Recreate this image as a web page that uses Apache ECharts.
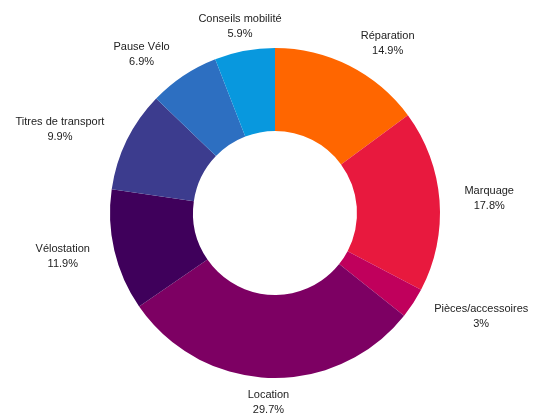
<!DOCTYPE html>
<html>
<head>
<meta charset="utf-8">
<script src="https://cdn.jsdelivr.net/npm/echarts@6/dist/echarts.min.js"></script>
<style>
  html, body { margin: 0; padding: 0; background: #fff; }
  #chart { width: 541px; height: 413px; }
</style>
</head>
<body>
<div id="chart"></div>
<script>
// données
const categories = ['Réparation', 'Marquage', 'Pièces/accessoires', 'Location', 'Vélostation', 'Titres de transport', 'Pause Vélo', 'Conseils mobilité']
const values = [14.9, 17.8, 3, 29.7, 11.9, 9.9, 6.9, 5.9]
const colors = ['#ff6600', '#e8193e', '#c0005c', '#7d0063', '#3f005b', '#3c3c8e', '#2d6fc1', '#0898de']

const cx = 275
const cy = 213
const outerR = 165
const innerR = 82
const labelR = 190

const total = values.reduce((a, b) => a + b, 0)
// angle médian de chaque part (depuis le haut, sens horaire)
const midAngles = []
let acc = 0
values.forEach(v => {
  midAngles.push((acc + v / 2) / total * Math.PI * 2)
  acc += v
})

const chart = echarts.init(document.getElementById('chart'))
const option = {
  animation: false,
  series: [
    {
      type: 'pie',
      center: [cx, cy],
      radius: [innerR, outerR],
      startAngle: 90,
      clockwise: true,
      avoidLabelOverlap: false,
      itemStyle: { borderWidth: 0 },
      label: {
        show: true,
        position: 'outside',
        formatter: '{t|{b}}\n{t|{c}%}',
        color: '#222',
        fontFamily: 'Liberation Sans, Arial, sans-serif',
        fontSize: 11,
        rich: {
          t: { align: 'center', fontSize: 11, lineHeight: 15, color: '#222', fontFamily: 'Liberation Sans, Arial, sans-serif' }
        }
      },
      labelLine: { show: false },
      labelLayout: (params) => {
        const a = midAngles[params.dataIndex]
        const s = Math.sin(a)
        let align = 'center'
        if (s > 0.3) align = 'left'
        else if (s < -0.3) align = 'right'
        return {
          x: cx + labelR * s,
          y: cy - labelR * Math.cos(a),
          align: align,
          verticalAlign: 'middle'
        }
      },
      emphasis: { disabled: true },
      data: categories.map((name, i) => ({
        name: name,
        value: values[i],
        itemStyle: { color: colors[i] }
      }))
    }
  ]
}
chart.setOption(option)
</script>
</body>
</html>
